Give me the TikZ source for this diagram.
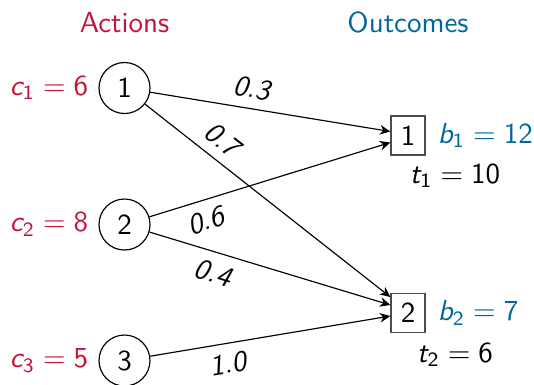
\documentclass[tikz,border=0pt]{standalone}
\usetikzlibrary{arrows.meta,calc}
\DeclareSymbolFont{sfup}{OT1}{cmss}{m}{n}
\DeclareSymbolFont{sfit}{OT1}{cmss}{m}{sl}
\DeclareMathSymbol{b}{\mathalpha}{sfit}{"62}
\DeclareMathSymbol{c}{\mathalpha}{sfit}{"63}
\DeclareMathSymbol{t}{\mathalpha}{sfit}{"74}
\DeclareMathSymbol{0}{\mathalpha}{sfup}{"30}
\DeclareMathSymbol{1}{\mathalpha}{sfup}{"31}
\DeclareMathSymbol{2}{\mathalpha}{sfup}{"32}
\DeclareMathSymbol{3}{\mathalpha}{sfup}{"33}
\DeclareMathSymbol{4}{\mathalpha}{sfup}{"34}
\DeclareMathSymbol{5}{\mathalpha}{sfup}{"35}
\DeclareMathSymbol{6}{\mathalpha}{sfup}{"36}
\DeclareMathSymbol{7}{\mathalpha}{sfup}{"37}
\DeclareMathSymbol{8}{\mathalpha}{sfup}{"38}
\DeclareMathSymbol{9}{\mathalpha}{sfup}{"39}
\definecolor{myred}{RGB}{196,18,56}
\definecolor{myblue}{RGB}{0,103,153}
\tikzset{
  act/.style={circle, draw, line width=0.4pt, minimum size=17.6pt, inner sep=0pt},
  outc/.style={rectangle, draw=black!70, line width=0.5pt, minimum width=11.7pt, minimum height=13.5pt, inner sep=0pt},
  arr/.style={-{Stealth[length=3.6pt,width=3.3pt]}, line width=0.4pt},
  prob/.style={font=\sffamily\itshape, sloped, inner sep=3.33pt},
}
\begin{document}
\begin{tikzpicture}[x=0.345pt, y=-0.345pt, font=\sffamily]
\useasboundingbox (0,0) rectangle (534,384);
\node[anchor=base, text=myred] (hA) at (124.5,32) {Actions};
\node[anchor=base, text=myblue] (hO) at (408,32) {Outcomes};
\node[act] (a1) at (124.5,88) {1};
\node[act] (a2) at (124.5,224.5) {2};
\node[act] (a3) at (124.5,360.5) {3};
\node[outc] (o1) at (408,135.5) {1};
\node[outc] (o2) at (408,313) {2};
\node[anchor=east, text=myred] (c1) at (a1.west) {$c_1 = 6$};
\node[anchor=east, text=myred] (c2) at (a2.west) {$c_2 = 8$};
\node[anchor=east, text=myred] (c3) at (a3.west) {$c_3 = 5$};
\node[anchor=west, text=myblue, xshift=0.7pt] (b1) at (o1.east) {$b_1 = 12$};
\node[anchor=west, text=myblue, xshift=0.7pt] (b2) at (o2.east) {$b_2 = 7$};
\node[anchor=base] (t1) at ($(o1.center)+(47,47.5)$) {$t_1 = 10$};
\node[anchor=base] (t2) at ($(o2.center)+(47,49)$) {$t_2 = 6$};
\draw[arr] (a1) -- ($(o1.west)+(0,-4)$) node[prob, above, pos=0.41] {0.3};
\draw[arr] (a1) -- ($(o2.west)+(0,-16)$) node[prob, above, pos=0.265] {0.7};
\draw[arr] (a2) -- ($(o1.west)+(0,7)$) node[prob, below, pos=0.21] {0.6};
\draw[arr] (a2) -- ($(o2.west)+(0,-8)$) node[prob, below, pos=0.29] {0.4};
\draw[arr] (a3) -- ($(o2.west)+(0,3)$) node[prob, below, pos=0.31] {1.0};
\end{tikzpicture}
\end{document}
